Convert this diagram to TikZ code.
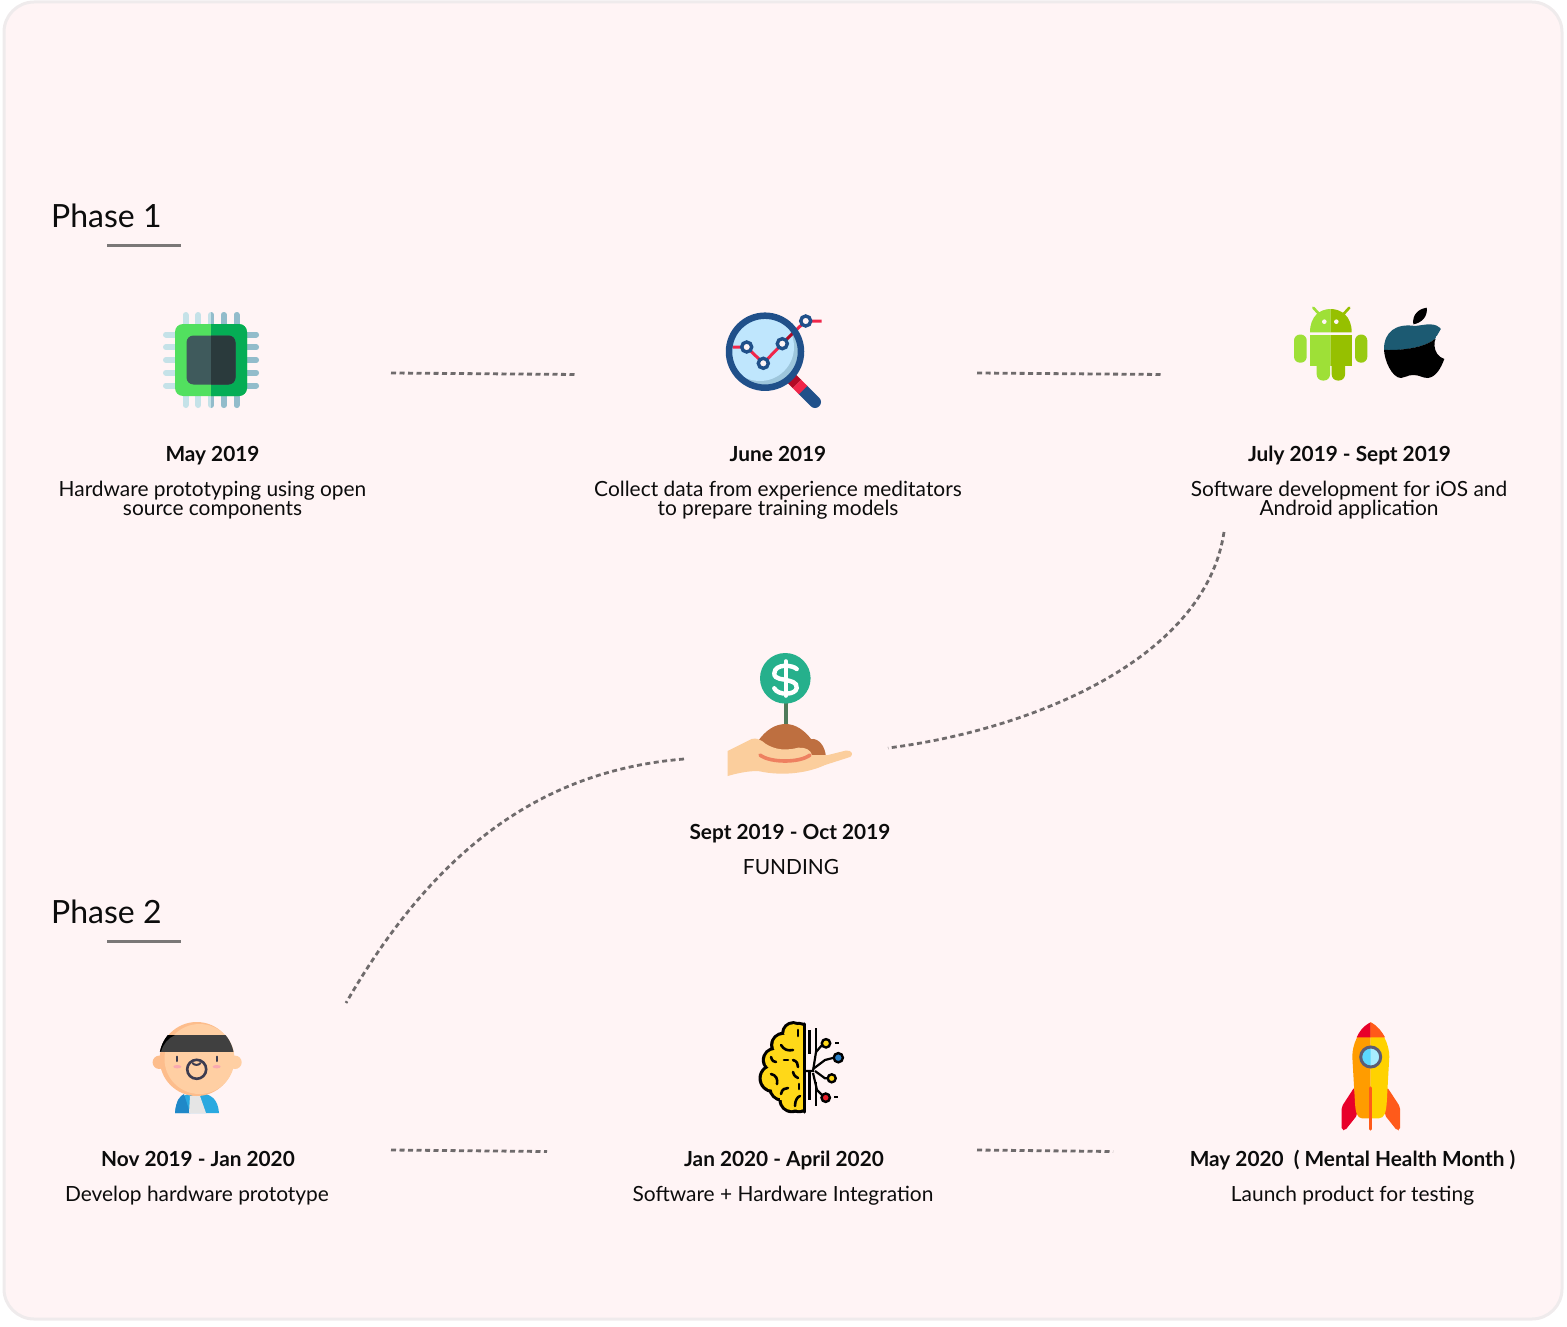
\documentclass[tikz,border=0pt]{standalone}
\usepackage{fontspec}
\setmainfont{Lato}
\definecolor{cardpink}{HTML}{FFF4F5}
\definecolor{cardedge}{HTML}{EFEBEC}
\definecolor{dashgray}{HTML}{6F6B6C}
\definecolor{rulegray}{HTML}{7A7777}
\definecolor{inkblack}{HTML}{0C0C0C}
\definecolor{pinlight}{HTML}{C5E2E8}
\definecolor{pindark}{HTML}{92BCCB}
\definecolor{chiplight}{HTML}{52E05F}
\definecolor{chipdark}{HTML}{05AD55}
\definecolor{corelight}{HTML}{3F5A5C}
\definecolor{coredark}{HTML}{2A3A3C}
\definecolor{navyblue}{HTML}{20508A}
\definecolor{lensblue}{HTML}{BFE6FD}
\definecolor{lensshade}{HTML}{9DC6DC}
\definecolor{graphred}{HTML}{F0264A}
\definecolor{darkred}{HTML}{B30A26}
\definecolor{droidlight}{HTML}{9EE037}
\definecolor{droiddark}{HTML}{96C000}
\definecolor{appleteal}{HTML}{1C5A72}
\definecolor{handskin}{HTML}{FBCE9D}
\definecolor{handline}{HTML}{EE8060}
\definecolor{soilbrown}{HTML}{BE6F40}
\definecolor{coinsgreen}{HTML}{26B08C}
\definecolor{stemgreen}{HTML}{4F7A5A}
\definecolor{faceskin}{HTML}{FFCFA3}
\definecolor{faceshade}{HTML}{FDBD8C}
\definecolor{faceink}{HTML}{3C3C50}
\definecolor{cheekpink}{HTML}{F9A9B0}
\definecolor{shirtblue}{HTML}{2AA9E0}
\definecolor{shirtdark}{HTML}{1F88C8}
\definecolor{brainyellow}{HTML}{FFD818}
\definecolor{nodeblue}{HTML}{2A80C8}
\definecolor{nodered}{HTML}{E8202A}
\definecolor{rocketred}{HTML}{E8002A}
\definecolor{rocketorange}{HTML}{FF5A1A}
\definecolor{bodyorange}{HTML}{FF9C00}
\definecolor{bodyyellow}{HTML}{FFD200}
\definecolor{windowgray}{HTML}{5C5C75}
\definecolor{windowblue}{HTML}{5CD8FF}
\definecolor{windowpale}{HTML}{A8ECFF}
\tikzset{
  datelabel/.style={anchor=base,inner sep=0pt,text=inkblack,font=\fontsize{20.8}{20}\selectfont\bfseries},
  infolabel/.style={anchor=north,inner sep=0pt,align=center,text=inkblack,font=\fontsize{20.9}{19}\selectfont},
  phaselabel/.style={anchor=base west,inner sep=0pt,text=inkblack,font=\fontsize{32}{32}\selectfont},
  dashline/.style={dashgray,line width=2.8pt,dash pattern=on 5pt off 3.5pt},
  phaserule/.style={rulegray,line width=3pt},
}
\begin{document}
\begin{tikzpicture}[x=1pt,y=-1pt]
\useasboundingbox (0,0) rectangle (1567,1327);
\draw[cardedge,line width=3pt,fill=cardpink,rounded corners=30pt] (4,2) rectangle (1562,1319);

%Phase titles
\node[phaselabel] (nPhaseOne) at (51,227) {Phase 1};
\coordinate (cRuleOneA) at (107,245);
\coordinate (cRuleOneB) at (181,245);
\draw[phaserule] (cRuleOneA) -- (cRuleOneB);
\node[phaselabel] (nPhaseTwo) at (51,923) {Phase 2};
\coordinate (cRuleTwoA) at (107,941);
\coordinate (cRuleTwoB) at (181,941);
\draw[phaserule] (cRuleTwoA) -- (cRuleTwoB);

%Labels
\node[datelabel] (nDateMay) at (212.5,461) {May 2019};
\node[infolabel] (nInfoMay) at (212.5,481) {Hardware prototyping using open\\source components};
\node[datelabel] (nDateJune) at (778,461) {June 2019};
\node[infolabel] (nInfoJune) at (778,481) {Collect data from experience meditators\\to prepare training models};
\node[datelabel] (nDateJuly) at (1349.5,461) {July 2019 - Sept 2019};
\node[infolabel] (nInfoJuly) at (1349,481) {Software development for iOS and\\Android application};
\node[datelabel] (nDateSept) at (790,839) {Sept 2019 - Oct 2019};
\node[infolabel] (nInfoSept) at (791,859) {FUNDING};
\node[datelabel] (nDateNov) at (198,1166) {Nov 2019 - Jan 2020};
\node[infolabel] (nInfoNov) at (197,1186) {Develop hardware prototype};
\node[datelabel] (nDateJan) at (784,1166) {Jan 2020 - April 2020};
\node[infolabel] (nInfoJan) at (783,1186) {Software + Hardware Integration};
\node[datelabel] (nDateLaunch) at (1352.5,1166) {May 2020\ \ ( Mental Health Month )};
\node[infolabel] (nInfoLaunch) at (1352.5,1186) {Launch product for testing};

%Dashed connectors
\coordinate (cMayEnd) at (391,373);
\coordinate (cJuneStart) at (577,374.5);
\coordinate (cJuneEnd) at (977,373);
\coordinate (cJulyStart) at (1163,374.5);
\coordinate (cJulyEnd) at (1224,532);
\coordinate (cSeptIn) at (888,748);
\coordinate (cSeptOut) at (684,759);
\coordinate (cNovIn) at (346,1003);
\coordinate (cNovEnd) at (391,1150);
\coordinate (cJanIn) at (547,1151.5);
\coordinate (cJanEnd) at (977,1150);
\coordinate (cLaunchIn) at (1113,1151.5);
\draw[dashline] (cMayEnd) -- (cJuneStart);
\draw[dashline] (cJuneEnd) -- (cJulyStart);
\draw[dashline] (cJulyEnd) .. controls (1205,660) and (1030,730) .. (cSeptIn);
\draw[dashline] (cSeptOut) .. controls (550,770) and (440,840) .. (cNovIn);
\draw[dashline] (cNovEnd) -- (cJanIn);
\draw[dashline] (cJanEnd) -- (cLaunchIn);

%Chip
\begin{scope}[shift={(211,360)}]
\foreach \p in {-25.5,-12.75,0,12.75,25.5}{
  \draw[line width=6pt,line cap=round,pinlight] (\p,-45) -- (\p,45);
  \draw[line width=6pt,line cap=round,pinlight] (-45,\p) -- (45,\p);
}
\begin{scope}
\clip (0,-60) rectangle (60,60);
\foreach \p in {-25.5,-12.75,0,12.75,25.5}{
  \draw[line width=6pt,line cap=round,pindark] (\p,-45) -- (\p,45);
  \draw[line width=6pt,line cap=round,pindark] (-45,\p) -- (45,\p);
}
\end{scope}
\fill[chiplight,rounded corners=8pt] (-36,-36) rectangle (36,36);
\begin{scope}
\clip (0,-40) rectangle (40,40);
\fill[chipdark,rounded corners=8pt] (-36,-36) rectangle (36,36);
\end{scope}
\fill[corelight,rounded corners=7pt] (-24.5,-24.5) rectangle (24.5,24.5);
\begin{scope}
\clip (0,-30) rectangle (30,30);
\fill[coredark,rounded corners=7pt] (-24.5,-24.5) rectangle (24.5,24.5);
\end{scope}
\end{scope}

%Magnifier
\coordinate (cLensPt) at (765,351.7);
\draw[line width=12pt,line cap=round,navyblue] (803,390) -- (815,402);
\draw[line width=12pt,darkred] (788,375) -- (797,384);
\draw[line width=12pt,graphred] (797,384) -- (803,390);
\fill[lensshade] (cLensPt) circle (36);
\begin{scope}
\clip (cLensPt) circle (36);
\fill[lensblue] (760,347) circle (34);
\end{scope}
\draw[line width=3pt,graphred] (732.7,347) -- (746.7,347) -- (763.3,363.3) -- (782.3,343.7);
\draw[line width=3pt,darkred] (782.3,343.7) -- (794,332);
\draw[line width=3pt,graphred] (794,332) -- (805.7,321) -- (821.7,321);
\draw[line width=6.5pt,navyblue] (cLensPt) circle (36);
\foreach \q in {(746.7,347),(763.3,363.3),(782.3,343.7),(805.7,321)}{
  \draw[line width=3.4pt,navyblue,fill=cardpink] \q circle (5);
}

%Android
\begin{scope}
\foreach \side/\clipA/\clipB/\droid in {0/1280/1330.7/droidlight,1/1330.7/1380/droiddark}{
\begin{scope}
\clip (\clipA,300) rectangle (\clipB,390);
\draw[\droid,line width=2.6pt,line cap=round] (1313.3,307.7) -- (1319.3,314.3);
\draw[\droid,line width=2.6pt,line cap=round] (1349.3,307.7) -- (1343.3,314.3);
\fill[\droid] (1310,332.3) .. controls (1310,316) and (1320,309) .. (1330.7,309) .. controls (1341,309) and (1351.7,316) .. (1351.7,332.3) -- cycle;
\fill[\droid] (1310,334.5) rectangle (1351.7,365.7);
\fill[\droid,rounded corners=6pt] (1316.7,355) rectangle (1330,380.5);
\fill[\droid,rounded corners=6pt] (1331.7,355) rectangle (1345,380.5);
\end{scope}
}
\fill[droidlight,rounded corners=6pt] (1294,334.5) rectangle (1306.7,362.7);
\fill[droiddark!70!droidlight,rounded corners=6pt] (1355,334.5) rectangle (1367.3,362.7);
\fill[cardpink] (1324.3,321.7) circle (2.3);
\fill[cardpink] (1336.3,321.7) circle (2.3);
\end{scope}

%Apple
\fill[black] (1413.3,324.3) .. controls (1412,315) and (1418,309) .. (1426.7,307.7) .. controls (1428,316) and (1422,323) .. cycle;
\begin{scope}
\clip (1384,323) -- (1384,350) .. controls (1405,351) and (1425,347) .. (1435,339) -- (1446,320) -- cycle;
\fill[appleteal] (1415,326) .. controls (1425,325) and (1436,321) .. (1442.3,330.7) .. controls (1431,337) and (1432,355) .. (1444.3,359) .. controls (1441,368) and (1436,377) .. (1428,378) .. controls (1422,378) and (1420,375) .. (1413.3,375) .. controls (1407,375) and (1405,378) .. (1401,378) .. controls (1392,378) and (1384,360) .. (1384,349) .. controls (1384,332) and (1396,323) .. (1415,326) -- cycle;
\end{scope}
\begin{scope}
\clip (1380,349.8) .. controls (1405,351) and (1425,347) .. (1435,339) -- (1450,339) -- (1450,385) -- (1380,385) -- cycle;
\fill[black] (1415,326) .. controls (1425,325) and (1436,321) .. (1442.3,330.7) .. controls (1431,337) and (1432,355) .. (1444.3,359) .. controls (1441,368) and (1436,377) .. (1428,378) .. controls (1422,378) and (1420,375) .. (1413.3,375) .. controls (1407,375) and (1405,378) .. (1401,378) .. controls (1392,378) and (1384,360) .. (1384,349) .. controls (1384,332) and (1396,323) .. (1415,326) -- cycle;
\end{scope}

%Funding hand
\draw[line width=4pt,stemgreen] (785.7,703) -- (785.7,726);
\fill[coinsgreen] (785.3,678.3) circle (25.3);
\draw[white,line width=4.4pt,line cap=round] (796.7,669) .. controls (793,665) and (775,663) .. (774.3,673.3) .. controls (774,680) and (785,679) .. (786,680) .. controls (790,681) and (797.5,682) .. (796.7,688) .. controls (796,695) and (778,696) .. (774.3,688.3);
\draw[white,line width=3.6pt,line cap=round] (785.7,661) -- (785.7,696);
\fill[soilbrown] (758,741) .. controls (766,730) and (775,724) .. (785.7,724) .. controls (796,724) and (805,731) .. (811,739) .. controls (818,738) and (825,745) .. (826,757) -- (790,762) -- cycle;
\fill[handskin] (727.7,751) -- (751.7,739) .. controls (756,738) and (759,739) .. (762,741) .. controls (770,748) and (782,752) .. (798,747.7) .. controls (805,747) and (811,750) .. (812,755) -- (828,755) -- (846,750.5) .. controls (852,750) and (854,755) .. (850,757) -- (825,765) .. controls (810,772) and (785,777) .. (758,771) .. controls (748,771) and (738,773) .. (727.7,776) -- cycle;
\draw[line width=3.6pt,line cap=round,handline] (760,755) .. controls (770,763) and (800,763) .. (810,755);

%Face
\begin{scope}
\fill[faceshade] (159.3,1062.3) circle (6.7);
\fill[faceskin] (235,1062.3) circle (6.7);
\fill[shirtblue] (175,1113) .. controls (176,1100) and (182,1093) .. (197,1093) .. controls (212,1093) and (218,1100) .. (219,1113) -- cycle;
\fill[shirtdark] (175,1113) .. controls (176,1100) and (180,1096) .. (184,1094) -- (190,1113) -- cycle;
\fill[black!10] (190,1096) -- (200,1096) -- (206,1113) -- (189,1113) -- cycle;
\fill[faceshade] (196.7,1059) circle (37);
\fill[faceskin] (199.5,1059) circle (35);
\clip (196.7,1059) circle (37.5);
\fill[black!75] (155,1035) rectangle (240,1051.7);
\fill[black] (155,1051.7) -- (161,1051.7) .. controls (163,1044) and (168,1038) .. (175,1035) -- (155,1035) -- cycle;
\end{scope}
\draw[faceink,line width=2pt,line cap=round] (177.3,1056.5) -- (177.3,1061);
\draw[faceink,line width=2pt,line cap=round] (216.7,1056.5) -- (216.7,1061);
\fill[cheekpink] (177.3,1066.7) ellipse (4 and 1.7);
\fill[cheekpink] (216.7,1066.7) ellipse (4 and 1.7);
\draw[faceink,line width=2.6pt] (196.7,1069.3) circle (9.5);
\draw[faceink,line width=2pt,line cap=round] (192.5,1063) .. controls (194,1065.5) and (199,1065.5) .. (200.5,1063);

%Brain
\begin{scope}
\clip (750,1015) rectangle (804.5,1120);
\foreach \bx/\by/\br in {793.3/1033.3/10.7,783.3/1045/11.7,775/1060/11.7,773.3/1078.3/13.3,781.7/1088.3/11.7,791.7/1100/11.7,799/1100/11.7,799/1034/10.7}{
  \fill[black] (\bx,\by) circle (\br+1.5);
}
\foreach \bx/\by/\br in {793.3/1033.3/10.7,783.3/1045/11.7,775/1060/11.7,773.3/1078.3/13.3,781.7/1088.3/11.7,791.7/1100/11.7,799/1100/11.7,799/1034/10.7}{
  \fill[brainyellow] (\bx,\by) circle (\br-1.6);
}
\fill[brainyellow] (780,1040) rectangle (804.5,1100);
\end{scope}
\draw[line width=3.2pt,line cap=round] (804.3,1024) -- (804.3,1112);
\draw[line width=2.6pt,line cap=round] (798,1030) -- (798,1036);
\draw[line width=2.6pt,line cap=round] (781,1045) .. controls (784,1050) and (788,1051) .. (793,1050);
\draw[line width=2.6pt,line cap=round] (771,1057) .. controls (772,1061) and (774,1062) .. (776,1062);
\draw[line width=2.6pt,line cap=round] (784,1060) -- (788,1060);
\draw[line width=2.6pt,line cap=round] (793,1060) .. controls (797,1061) and (798,1064) .. (798,1067);
\draw[line width=2.6pt,line cap=round] (771,1074) .. controls (776,1075) and (778,1079) .. (777,1084);
\draw[line width=2.6pt,line cap=round] (793,1072) .. controls (794,1076) and (796,1077) .. (798,1078);
\draw[line width=2.6pt,line cap=round] (799,1084) -- (799,1089);
\draw[line width=2.6pt,line cap=round] (781,1094) .. controls (782,1089) and (785,1088) .. (788,1088);
\draw[line width=2.6pt,line cap=round] (795,1106) .. controls (795,1101) and (797,1097) .. (800,1096);
\draw[line width=2.4pt] (809.3,1030) -- (809.3,1054);
\draw[line width=2.4pt] (809.3,1072) -- (809.3,1100);
\draw[line width=2.4pt] (815.7,1028) -- (815.7,1052);
\draw[line width=2.4pt] (815.7,1082) -- (815.7,1106);
\draw[line width=2.2pt] (804.3,1071) -- (813,1071) -- (816,1052) -- (822,1045);
\draw[line width=2.2pt] (813,1069) -- (825,1060) -- (834,1057.7);
\draw[line width=2.2pt] (815,1071) -- (825,1078.3) -- (829,1078.3);
\draw[line width=2.2pt] (813,1073) -- (817,1090) -- (823,1096);
\foreach \nx/\ny/\nr/\nc in {826/1043.3/4.2/brainyellow,838.3/1057.7/4.6/nodeblue,831.7/1078.3/4/brainyellow,825.7/1097.7/4.2/nodered}{
  \draw[line width=2.4pt,fill=\nc] (\nx,\ny) circle (\nr);
}
\draw[line width=2.2pt] (835,1043.3) -- (839,1043.3);
\draw[line width=2.2pt] (834,1097.3) -- (838,1097.3);

%Rocket
\begin{scope}
\fill[rocketred,rounded corners=2pt] (1354.3,1087.3) -- (1341.7,1106.7) -- (1341.7,1130) -- (1345,1130.5) -- (1357.3,1115) -- cycle;
\fill[rocketorange,rounded corners=2pt] (1387.3,1087.3) -- (1400,1106.7) -- (1400,1130) -- (1397,1130.5) -- (1384.7,1115) -- cycle;
\fill[bodyorange] (1370.7,1022.3) .. controls (1358,1030) and (1352.3,1045) .. (1352.3,1056.7) -- (1355,1103) .. controls (1355.5,1112) and (1357,1118.3) .. (1362,1118.3) -- (1370.7,1118.3) -- cycle;
\fill[bodyyellow] (1370.7,1022.3) .. controls (1383,1030) and (1389.3,1045) .. (1389.3,1056.7) -- (1386.7,1103) .. controls (1386,1112) and (1384.5,1118.3) .. (1379,1118.3) -- (1370.7,1118.3) -- cycle;
\fill[rocketred] (1370.7,1022.3) .. controls (1363,1026) and (1359,1032) .. (1356.7,1037.3) -- (1370.7,1037.3) -- cycle;
\fill[rocketorange] (1370.7,1022.3) .. controls (1378,1026) and (1382,1032) .. (1385,1037.3) -- (1370.7,1037.3) -- cycle;
\draw[rocketorange,line width=3.4pt,line cap=round] (1370.7,1088) -- (1370.7,1129);
\fill[windowblue] (1370.7,1057) circle (10);
\begin{scope}
\clip (1370.7,1040) rectangle (1385,1075);
\fill[windowpale] (1370.7,1057) circle (10);
\end{scope}
\draw[line width=3pt,windowgray] (1370.7,1057) circle (10);
\end{scope}

\end{tikzpicture}
\end{document}
